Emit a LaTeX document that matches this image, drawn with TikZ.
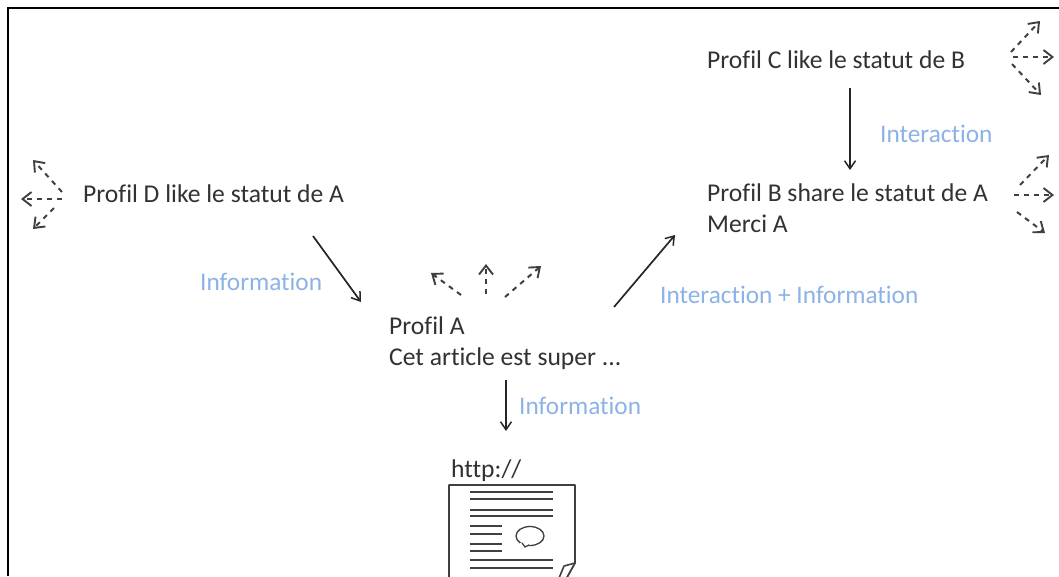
\documentclass[tikz,border=0pt]{standalone}
\usepackage{fontspec}
\setmainfont{Carlito}[Ligatures=NoCommon]
\usetikzlibrary{arrows.meta}
\definecolor{infoblue}{RGB}{140,178,230}
\definecolor{inktext}{RGB}{50,50,50}
\tikzset{
  x=1pt,y=-1pt,
  lbl/.style={font=\fontsize{25.6}{31}\selectfont,text=inktext,anchor=west,inner sep=0pt,align=left},
  info/.style={font=\fontsize{25.3}{25}\selectfont,text=infoblue,anchor=west,inner sep=0pt},
  mainarrow/.style={draw=black!85,line width=1.7pt,-{Straight Barb[length=8pt,width=11pt,line width=1.5pt]}},
  dasharrow/.style={draw=black!75,line width=2pt,dash pattern=on 5pt off 5pt,-{Straight Barb[length=9pt,width=14pt,line width=1.9pt]}},
  docline/.style={draw=black!75,line width=1.4pt},
}
\begin{document}
\begin{tikzpicture}
\useasboundingbox (0,0) rectangle (1059,576);
\begin{scope}
\clip (0,0) rectangle (1059,576);
\fill[white] (0,0) rectangle (1059,576);
\draw[black,line width=2.2pt] (8,576) -- (8,8) -- (1059,8);

% texts
\node[lbl] (d) at (83,194) {Profil D like le statut de A};
\node[lbl] (c) at (707,60) {Profil C like le statut de B};
\node[lbl,anchor=north west] (b) at (707,184) {Profil B share le statut de A\\Merci A};
\node[lbl,anchor=north west] (a) at (389,317) {Profil A\\Cet article est super ...};
\node[lbl] (h) at (451,471) {http://};

% labels
\node[info] (i1) at (200,282) {Information};
\node[info] (i2) at (660,295) {Interaction + Information};
\node[info] (i3) at (880,134) {Interaction};
\node[info] (i4) at (519,406) {Information};

% main connectors
\coordinate (dS) at (313,236); \coordinate (aW) at (361,302);
\coordinate (aE) at (614,307); \coordinate (bW) at (675,235);
\coordinate (cS) at (850,88);  \coordinate (bN) at (850,170);
\coordinate (aS) at (506,380); \coordinate (docN) at (506,431);
\draw[mainarrow] (dS) -- (aW);
\draw[mainarrow] (aE) -- (bW);
\draw[mainarrow] (cS) -- (bN);
\draw[mainarrow] (aS) -- (docN);

% dashed: profile C
\coordinate (c0) at (1011,52); \coordinate (c1) at (1040,21);
\coordinate (c2) at (1013,57); \coordinate (c3) at (1054,57);
\coordinate (c4) at (1012,64); \coordinate (c5) at (1041,95);
\draw[dasharrow] (c0) -- (c1);
\draw[dasharrow] (c2) -- (c3);
\draw[dasharrow] (c4) -- (c5);
% dashed: profile B
\coordinate (b0) at (1020,185); \coordinate (b1) at (1049,155);
\coordinate (b2) at (1014,195); \coordinate (b3) at (1054,195);
\coordinate (b4) at (1017,212); \coordinate (b5) at (1045,233);
\draw[dasharrow] (b0) -- (b1);
\draw[dasharrow] (b2) -- (b3);
\draw[dasharrow] (b4) -- (b5);
% dashed: profile D
\coordinate (d0) at (62,192); \coordinate (d1) at (33,160);
\coordinate (d2) at (62,199); \coordinate (d3) at (21,199);
\coordinate (d4) at (54,208); \coordinate (d5) at (33,229);
\draw[dasharrow] (d0) -- (d1);
\draw[dasharrow] (d2) -- (d3);
\draw[dasharrow] (d4) -- (d5);
% dashed: profile A
\coordinate (a0) at (461,295); \coordinate (a1) at (431,273);
\coordinate (a2) at (486,294); \coordinate (a3) at (486,264);
\coordinate (a4) at (505,297); \coordinate (a5) at (541,266);
\draw[dasharrow] (a0) -- (a1);
\draw[dasharrow] (a2) -- (a3);
\draw[dasharrow] (a4) -- (a5);

% document icon
\draw[draw=black!75,line width=1.8pt,line join=round]
  (449,590) -- (449,485) -- (575,485) -- (575,563) -- (560,590);
\draw[draw=black!75,line width=1.6pt,line join=round]
  (575,563) -- (564,566) -- (559,578);
\foreach \yy in {492,499,510,516,560,568} \draw[docline] (470,\yy) -- (553,\yy);
\foreach \yy in {526,534,544,551} \draw[docline] (470,\yy) -- (502,\yy);
\draw[draw=black!75,line width=1.3pt] (530,536) ellipse (14 and 9.5);
\fill[white] (520,543) rectangle (528,547);
\draw[draw=black!75,line width=1.3pt] (522,543) -- (525,547) -- (529,545);
\end{scope}
\end{tikzpicture}
\end{document}
